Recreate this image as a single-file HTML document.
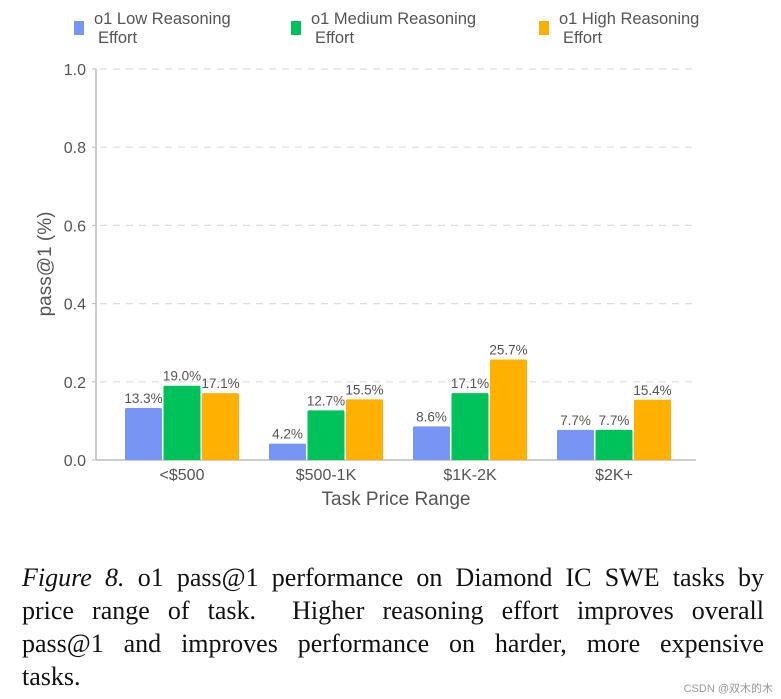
<!DOCTYPE html>
<html><head><meta charset="utf-8"><style>
body{margin:0;background:#fff;width:781px;height:699px;overflow:hidden;position:relative;font-family:"Liberation Sans",sans-serif}
#cap{position:absolute;left:22px;top:561px;width:742px;font-family:"Liberation Serif",serif;font-size:26px;line-height:33px;color:#111}
#cap div{text-align:justify;text-align-last:justify;white-space:nowrap}
#cap div.last{text-align-last:left}
</style></head><body>
<svg id="chart" width="781" height="550" style="position:absolute;left:0;top:0"></svg>
<div id="cap">
<div style="white-space:normal"><i>Figure 8.</i> o1 pass@1 performance on Diamond IC SWE tasks by</div>
<div style="white-space:normal">price range of task. &nbsp;Higher reasoning effort improves overall</div>
<div style="white-space:normal">pass@1 and improves performance on harder, more expensive</div>
<div class="last">tasks.</div>
</div>
<div style="position:absolute;right:8px;top:680px;font-size:11px;color:#999;font-family:'Liberation Sans','Noto Sans CJK SC',sans-serif">CSDN @双木的木</div>
<script>
const categories=["<$500","$500-1K","$1K-2K","$2K+"];
const seriesNames=["o1 Low Reasoning Effort","o1 Medium Reasoning Effort","o1 High Reasoning Effort"];
const lowVals=[13.3,4.2,8.6,7.7];
const medVals=[19.0,12.7,17.1,7.7];
const highVals=[17.1,15.5,25.7,15.4];
const yTicks=[0,0.2,0.4,0.6,0.8,1.0];
const colors=["#7795f5","#00c25a","#ffb000"];
const NS="http://www.w3.org/2000/svg";
const svg=document.getElementById('chart');
function mk(t,a,p){const e=document.createElementNS(NS,t);for(const k in a)e.setAttribute(k,a[k]);(p||svg).appendChild(e);return e;}
const x0=96,x1=696,yTop=69,yBot=460;
const y=v=>yBot-(v)*(yBot-yTop);
const band=144,bandStart=110;
const xc=i=>bandStart+band*i+band/2;
yTicks.forEach(t=>{
  if(t>0){const g=mk('line',{x1:x0+4,x2:x1,y1:y(t),y2:y(t),stroke:'#ddd','stroke-dasharray':'7,6','stroke-width':1.2});
  
  }
  mk('line',{x1:x0-4,x2:x0,y1:y(t),y2:y(t),stroke:'#bbb'});
  const l=mk('text',{x:x0-10,y:y(t)+6,'text-anchor':'end','font-size':16,fill:'#555'});l.textContent=t.toFixed(1);
  
  
});
const ax=mk('line',{x1:x0,x2:x0,y1:yTop,y2:yBot,stroke:'#bbb','stroke-width':1.5});


const xa=mk('line',{x1:x0,x2:x1,y1:yBot,y2:yBot,stroke:'#bbb','stroke-width':1.5});


const series=[lowVals,medVals,highVals];
const bw=37,gap=1.5;
categories.forEach((c,i)=>{
  series.forEach((s,j)=>{
    const bx=xc(i)+(j-1)*(bw+gap)-bw/2;
    const r=mk('rect',{x:bx,y:y(s[i]/100),width:bw,height:yBot-y(s[i]/100),fill:colors[j],rx:1.5});
    
    
    const t=mk('text',{x:bx+bw/2,y:y(s[i]/100)-5,'text-anchor':'middle','font-size':13.5,fill:'#555'});
    t.textContent=s[i].toFixed(1)+'%';
    
    
  });
  const l=mk('text',{x:xc(i),y:480,'text-anchor':'middle','font-size':16,fill:'#555'});l.textContent=c;
  
  
});
const xt=mk('text',{x:396,y:505,'text-anchor':'middle','font-size':19,fill:'#555'});xt.textContent='Task Price Range';


const yt=mk('text',{x:0,y:0,'text-anchor':'middle','font-size':19,fill:'#555',transform:'translate(51,264) rotate(-90)'});yt.textContent='pass@1 (%)';


const lx=[74,291,539];
seriesNames.forEach((n,j)=>{
  const g=mk('g',{});
  
  
  mk('rect',{x:lx[j],y:21,width:10,height:14,fill:colors[j]},g);
  const parts=n.split(' Effort');
  const t1=mk('text',{x:lx[j]+20,y:24,'font-size':16.5,fill:'#555'},g);t1.textContent=parts[0];
  const t2=mk('text',{x:lx[j]+24,y:43,'font-size':16.5,fill:'#555'},g);t2.textContent='Effort';
});
</script>
</body></html>
